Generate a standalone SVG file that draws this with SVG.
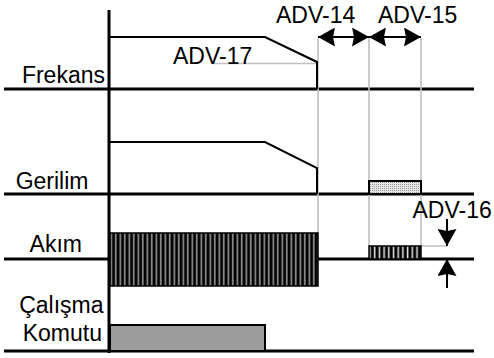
<svg xmlns="http://www.w3.org/2000/svg" width="494" height="358" viewBox="0 0 494 358">
<style>
text{font-family:"Liberation Sans",Arial,sans-serif;font-size:23px;fill:#000}
.base{stroke:#000;stroke-width:3;fill:none}
.wave{stroke:#000;stroke-width:2;fill:none}
.guide{stroke:#c0c0c0;stroke-width:1.6;fill:none}
.arr{stroke:#000;stroke-width:2;fill:none}
</style>
<defs>
<marker id="ah" markerUnits="userSpaceOnUse" markerWidth="18" markerHeight="19" refX="17" refY="9.5" orient="auto-start-reverse" viewBox="0 0 18 19">
<path d="M0,0 L17,9.5 L0,19 L2,9.5 Z" fill="#000"/>
</marker>
<pattern id="hatchBig" patternUnits="userSpaceOnUse" width="4.5" height="10">
<rect width="4.5" height="10" fill="#000"/>
<rect x="2.5" width="1.6" height="10" fill="#9a9a9a"/>
</pattern>
<pattern id="hatchSmall" patternUnits="userSpaceOnUse" width="4.7" height="10">
<rect width="4.7" height="10" fill="#000"/>
<rect x="2.6" width="1.6" height="10" fill="#e0e0e0"/>
</pattern>
<pattern id="stipple" patternUnits="userSpaceOnUse" width="2" height="2">
<rect width="2" height="2" fill="#e6e6e6"/>
<rect width="1" height="1" fill="#9a9a9a"/>
</pattern>
</defs>

<g id="axes">
<line class="base" x1="109" y1="10" x2="109" y2="353"/>
<line class="base" x1="4" y1="89" x2="474" y2="89"/>
<line class="base" x1="4" y1="194" x2="474" y2="194"/>
<line class="base" x1="4" y1="259" x2="474" y2="259"/>
<line class="base" x1="4" y1="351" x2="474" y2="351"/>
</g>

<g id="connectors">
<polyline class="guide" points="318,38 318,233"/>
<polyline class="guide" points="369,38 369,246"/>
<polyline class="guide" points="421,38 421,246 447,246"/>
<line class="guide" x1="212" y1="63.5" x2="316" y2="63.5"/>
<line class="arr" x1="318" y1="37" x2="369" y2="37" marker-start="url(#ah)" marker-end="url(#ah)"/>
<line class="arr" x1="369" y1="37" x2="421" y2="37" marker-start="url(#ah)" marker-end="url(#ah)"/>
<line class="arr" x1="447" y1="219" x2="447" y2="246" marker-end="url(#ah)"/>
<line class="arr" x1="447" y1="288" x2="447" y2="259" marker-end="url(#ah)"/>
</g>

<g id="frekans">
<polyline class="wave" points="110,37 265,37 317,62 317,89"/>
<text x="105" y="83" text-anchor="end">Frekans</text>
</g>

<g id="gerilim">
<polyline class="wave" points="110,142 265,142 317,168 317,194"/>
<rect x="369" y="181" width="52" height="13" fill="url(#stipple)" stroke="#000" stroke-width="2"/>
<text x="88.5" y="188.5" text-anchor="end">Gerilim</text>
</g>

<g id="akim">
<rect x="110" y="233" width="208" height="53" fill="url(#hatchBig)" stroke="#000" stroke-width="1.5"/>
<rect x="369" y="246" width="52" height="13" fill="url(#hatchSmall)" stroke="#000" stroke-width="1.5"/>
<text x="82" y="252" text-anchor="end">Akım</text>
</g>

<g id="komut">
<rect x="110" y="325" width="155" height="26" fill="#9c9c9c" stroke="#000" stroke-width="2"/>
<text x="103.5" y="313" text-anchor="end">Çalışma</text>
<text x="102" y="341" text-anchor="end">Komutu</text>
</g>

<g id="labels">
<text x="173" y="64">ADV-17</text>
<text x="276" y="23">ADV-14</text>
<text x="378" y="23">ADV-15</text>
<text x="412.5" y="218">ADV-16</text>
</g>
</svg>
